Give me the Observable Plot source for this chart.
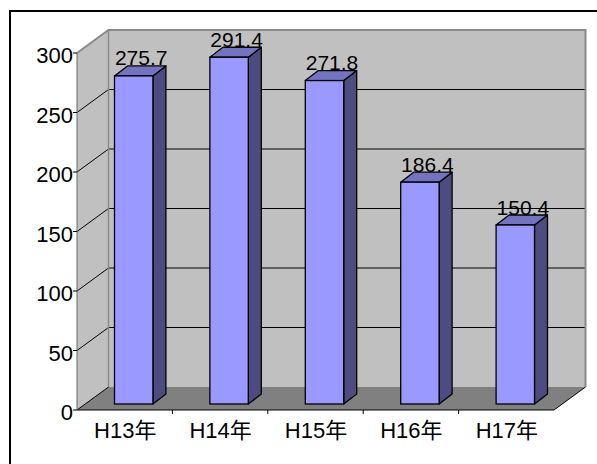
<!DOCTYPE html>
<html>
<head>
<meta charset="utf-8">
<script src="https://cdn.jsdelivr.net/npm/d3@7"></script>
<script src="https://cdn.jsdelivr.net/npm/@observablehq/plot@0.6"></script>
<style>
  body { margin: 0; background: #fff; }
  #wrap { position: relative; width: 597px; height: 464px; overflow: hidden; background: #fff; }
  #wrap svg { position: absolute; left: 0; top: 0; }
  #border { position: absolute; left: 9px; top: 10px; width: 620px; height: 480px; border: 2px solid #000; box-sizing: border-box; }
</style>
</head>
<body>
<div id="wrap"><div id="border"></div></div>
<script>
// ---- data ----
const categories = ["H13年", "H14年", "H15年", "H16年", "H17年"];
const values = [275.7, 291.4, 271.8, 186.4, 150.4];
const valueLabels = ["275.7", "291.4", "271.8", "186.4", "150.4"];
const yTicks = [0, 50, 100, 150, 200, 250, 300];

const data = categories.map((c, i) => ({i, category: c, value: values[i], label: valueLabels[i]}));

// ---- 3D look (pixel offsets) ----
const DX = 31.5, DY = -23;        // wall depth
const BX = 9, BY = -6;            // bar front offset from floor front
const BDX = 13, BDY = -10;        // bar depth
const INSET = 28.5;               // bar inset within its category

const FONT = "'Liberation Sans', Arial, 'Noto Sans CJK JP', sans-serif";

// walls, floor, gridlines, ticks drawn with the plot's scales
function walls(index, scales) {
  const {x, y} = scales;
  const g = d3.create("svg:g");
  const x0 = x(0), x5 = x(categories.length);
  const y0 = y(0), yTop = y(yTicks[yTicks.length - 1]);
  // left wall
  g.append("polygon")
    .attr("points", [[x0, y0], [x0, yTop], [x0 + DX, yTop + DY], [x0 + DX, y0 + DY]].join(" "))
    .attr("fill", "#C0C0C0");
  // back wall
  g.append("rect")
    .attr("x", x0 + DX).attr("y", yTop + DY)
    .attr("width", x5 - x0).attr("height", y0 - yTop)
    .attr("fill", "#C0C0C0");
  // floor
  g.append("polygon")
    .attr("points", [[x0, y0], [x5, y0], [x5 + DX, y0 + DY], [x0 + DX, y0 + DY]].join(" "))
    .attr("fill", "#808080");
  // gridlines
  for (const t of yTicks.slice(1, -1)) {
    const yy = y(t);
    g.append("line").attr("x1", x0 + DX).attr("x2", x5 + DX).attr("y1", yy + DY).attr("y2", yy + DY)
      .attr("stroke", "#000").attr("stroke-width", 1);
    g.append("line").attr("x1", x0).attr("x2", x0 + DX).attr("y1", yy).attr("y2", yy + DY)
      .attr("stroke", "#000").attr("stroke-width", 1);
  }
  // wall edges (gray)
  const gray = "#8A8A8A";
  g.append("polyline")
    .attr("points", [[x0, yTop], [x0 + DX, yTop + DY], [x5 + DX, yTop + DY], [x5 + DX, y0 + DY]].join(" "))
    .attr("fill", "none").attr("stroke", gray).attr("stroke-width", 2);
  g.append("line").attr("x1", x0 + DX).attr("x2", x0 + DX).attr("y1", yTop + DY).attr("y2", y0 + DY)
    .attr("stroke", gray).attr("stroke-width", 1.5);
  // floor edges
  g.append("polyline")
    .attr("points", [[x0 + DX, y0 + DY], [x0, y0], [x5, y0], [x5 + DX, y0 + DY]].join(" "))
    .attr("fill", "none").attr("stroke", "#000").attr("stroke-width", 1);
  // y axis line
  g.append("line").attr("x1", x0).attr("x2", x0).attr("y1", yTop).attr("y2", y0)
    .attr("stroke", "#666").attr("stroke-width", 1);
  // y ticks
  for (const t of yTicks) {
    g.append("line").attr("x1", x0 - 4).attr("x2", x0).attr("y1", y(t)).attr("y2", y(t))
      .attr("stroke", "#000").attr("stroke-width", 1);
  }
  // x ticks at category boundaries
  for (let k = 1; k < categories.length; k++) {
    g.append("line").attr("x1", x(k)).attr("x2", x(k)).attr("y1", y0).attr("y2", y0 + 4)
      .attr("stroke", "#000").attr("stroke-width", 1);
  }
  return g.node();
}

// side and top faces of the bars
function barFaces(index, scales) {
  const {x, y} = scales;
  const g = d3.create("svg:g");
  for (const d of data) {
    const xl = x(d.i) + INSET + BX, xr = x(d.i + 1) - INSET + BX;
    const yb = y(0) + BY, yt = y(d.value) + BY;
    g.append("polygon")
      .attr("points", [[xr, yb], [xr, yt], [xr + BDX, yt + BDY], [xr + BDX, yb + BDY]].join(" "))
      .attr("fill", "#4C4C80").attr("stroke", "#000").attr("stroke-width", 1.3).attr("stroke-linejoin", "round");
    g.append("polygon")
      .attr("points", [[xl, yt], [xr, yt], [xr + BDX, yt + BDY], [xl + BDX, yt + BDY]].join(" "))
      .attr("fill", "#7373BF").attr("stroke", "#000").attr("stroke-width", 1.3).attr("stroke-linejoin", "round");
  }
  return g.node();
}

const chart = Plot.plot({
  width: 597,
  height: 464,
  marginLeft: 77,
  marginRight: 43,
  marginTop: 53,
  marginBottom: 54,
  style: {fontFamily: FONT, background: "transparent", overflow: "visible"},
  x: {type: "linear", domain: [0, categories.length], axis: null},
  y: {type: "linear", domain: [0, 300], axis: null},
  marks: [
    walls,
    barFaces,
    Plot.rectY(data, {
      x1: d => d.i, x2: d => d.i + 1, y1: () => 0, y2: d => d.value,
      insetLeft: INSET, insetRight: INSET, dx: BX, dy: BY,
      fill: "#9999FF", stroke: "#000", strokeWidth: 1.3
    }),
    Plot.text(data, {
      x: d => d.i + 0.5, y: d => d.value, text: d => d.label,
      dx: 16, dy: -17, lineAnchor: "bottom", textAnchor: "middle",
      fontSize: 21, fill: "#000"
    }),
    Plot.text(yTicks, {
      x: () => 0, y: d => d, text: d => String(d),
      dx: -4.5, dy: 2.5, textAnchor: "end", lineAnchor: "middle",
      fontSize: 22, fill: "#000"
    }),
    Plot.text(data, {
      x: d => d.i + 0.5, y: () => 0, text: d => d.category,
      dy: 27, lineAnchor: "bottom", textAnchor: "middle",
      fontSize: 22, fill: "#000"
    })
  ]
});

document.getElementById("wrap").insertBefore(chart, document.getElementById("border"));
</script>
</body>
</html>
